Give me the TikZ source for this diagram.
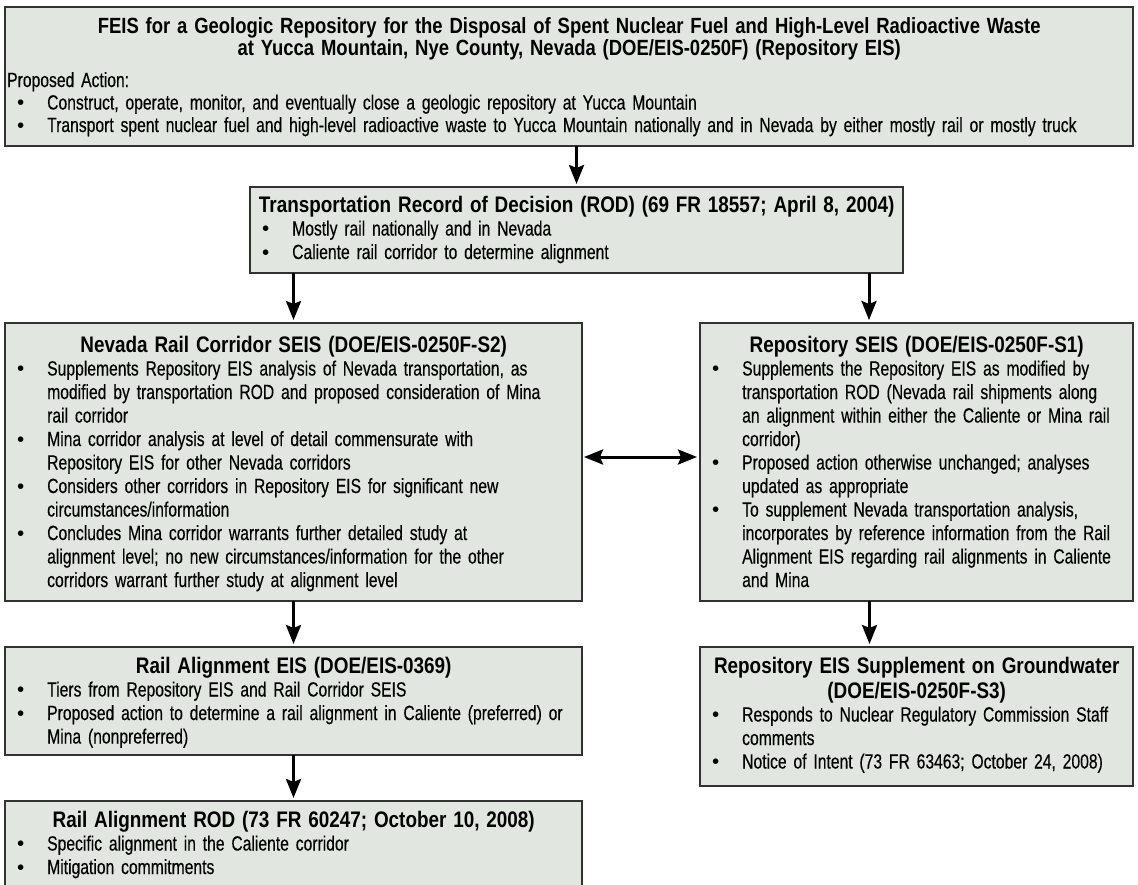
\documentclass[tikz,border=0pt]{standalone}
\usepackage{fontspec}
\setmainfont{Liberation Sans}[FakeStretch=0.765, FakeBold=0.35]
\newfontfamily\titlefont{Liberation Sans}[FakeStretch=0.84]
\newfontfamily\bulletfont{Liberation Sans}
\usetikzlibrary{arrows.meta}
\definecolor{boxfill}{RGB}{225,231,224}
\definecolor{boxline}{RGB}{50,50,50}
\newcommand\bitem[1]{\makebox[30pt][l]{{\bulletfont\textbullet}}#1}
\newcommand\bcont[1]{\hspace*{30pt}#1}
\newcommand\btitle[1]{{\titlefont\bfseries\fontsize{22.5}{25}\selectfont\makebox[\linewidth][c]{#1}\par}}
\newcommand\ftitle[1]{{\titlefont\bfseries\fontsize{22}{22.5}\selectfont\makebox[\linewidth][c]{#1}\par}}
\begin{document}
\begin{tikzpicture}[x=1pt,y=-1pt,
  box/.style={draw=boxline, fill=boxfill, line width=1.3pt, anchor=north west, inner sep=0pt, outer sep=0pt},
  content/.style={anchor=base west, inner sep=0pt, align=left, font=\fontsize{20.5}{23.5}\selectfont},
  arr/.style={line width=3pt, shorten >=3pt, -{Stealth[length=19pt,width=15pt,inset=3pt]}},
  dbl/.style={line width=3pt, shorten >=3pt, shorten <=2pt, {Stealth[length=19pt,width=15pt,inset=3pt]}-{Stealth[length=19pt,width=15pt,inset=3pt]}}
]
\useasboundingbox (0,0) rectangle (1138,884);

% boxes
\node[box, minimum width=1128pt, minimum height=139pt] (feis) at (5,7) {};
\node[box, minimum width=653pt, minimum height=86pt] (rod) at (250,187) {};
\node[box, minimum width=577pt, minimum height=278pt] (nrc) at (5,323) {};
\node[box, minimum width=433pt, minimum height=278pt] (rep) at (700,323) {};
\node[box, minimum width=577pt, minimum height=108pt] (rae) at (5,647) {};
\node[box, minimum width=433pt, minimum height=139pt] (gw) at (700,647) {};
\node[box, minimum width=577pt, minimum height=100pt] (ror) at (5,801) {};

% contents
\node[content, text width=1104pt] (feist) at (17,33) {%
  \ftitle{FEIS for a Geologic Repository for the Disposal of Spent Nuclear Fuel and High-Level Radioactive Waste}
  \ftitle{at Yucca Mountain, Nye County, Nevada (DOE/EIS-0250F) (Repository EIS)}
  \vspace{9pt}
  {\fontsize{20.5}{22.5}\selectfont\hspace*{-10pt}Proposed Action:\\
  \bitem{Construct, operate, monitor, and eventually close a geologic repository at Yucca Mountain}\\
  \bitem{Transport spent nuclear fuel and high-level radioactive waste to Yucca Mountain nationally and in Nevada by either mostly rail or mostly truck}\par}};

\node[content, text width=629pt] (rodt) at (262,212) {%
  \btitle{Transportation Record of Decision (ROD) (69 FR 18557; April 8, 2004)}
  \bitem{Mostly rail nationally and in Nevada}\\
  \bitem{Caliente rail corridor to determine alignment}};

\node[content, text width=553pt] (nrct) at (17,352) {%
  \btitle{Nevada Rail Corridor SEIS (DOE/EIS-0250F-S2)}
  \bitem{Supplements Repository EIS analysis of Nevada transportation, as}\\
  \bcont{modified by transportation ROD and proposed consideration of Mina}\\
  \bcont{rail corridor}\\
  \bitem{Mina corridor analysis at level of detail commensurate with}\\
  \bcont{Repository EIS for other Nevada corridors}\\
  \bitem{Considers other corridors in Repository EIS for significant new}\\
  \bcont{circumstances/information}\\
  \bitem{Concludes Mina corridor warrants further detailed study at}\\
  \bcont{alignment level; no new circumstances/information for the other}\\
  \bcont{corridors warrant further study at alignment level}};

\node[content, text width=409pt] (rept) at (712,352) {%
  \btitle{Repository SEIS (DOE/EIS-0250F-S1)}
  \bitem{Supplements the Repository EIS as modified by}\\
  \bcont{transportation ROD (Nevada rail shipments along}\\
  \bcont{an alignment within either the Caliente or Mina rail}\\
  \bcont{corridor)}\\
  \bitem{Proposed action otherwise unchanged; analyses}\\
  \bcont{updated as appropriate}\\
  \bitem{To supplement Nevada transportation analysis,}\\
  \bcont{incorporates by reference information from the Rail}\\
  \bcont{Alignment EIS regarding rail alignments in Caliente}\\
  \bcont{and Mina}};

\node[content, text width=553pt] (raet) at (17,673) {%
  \btitle{Rail Alignment EIS (DOE/EIS-0369)}
  \bitem{Tiers from Repository EIS and Rail Corridor SEIS}\\
  \bitem{Proposed action to determine a rail alignment in Caliente (preferred) or}\\
  \bcont{Mina (nonpreferred)}};

\node[content, text width=409pt] (gwt) at (712,673) {%
  \btitle{Repository EIS Supplement on Groundwater}
  \btitle{(DOE/EIS-0250F-S3)}
  \bitem{Responds to Nuclear Regulatory Commission Staff}\\
  \bcont{comments}\\
  \bitem{Notice of Intent (73 FR 63463; October 24, 2008)}};

\node[content, text width=553pt] (rort) at (17,827) {%
  \btitle{Rail Alignment ROD (73 FR 60247; October 10, 2008)}
  \bitem{Specific alignment in the Caliente corridor}\\
  \bitem{Mitigation commitments}};

% connectors
\draw[arr] (rod.north |- feis.south) -- (rod.north);
\draw[arr] (nrc.north |- rod.south) -- (nrc.north);
\draw[arr] ([xshift=-34pt]rod.south east) -- ([xshift=-34pt]rod.south east |- rep.north);
\draw[dbl] ([yshift=5pt]nrc.east) -- ([yshift=5pt]rep.west);
\draw[arr] (nrc.south) -- (rae.north);
\draw[arr] (rae.south) -- (ror.north);
\draw[arr] ([xshift=-47pt]rep.south) -- ([xshift=-47pt]rep.south |- gw.north);
\end{tikzpicture}
\end{document}
